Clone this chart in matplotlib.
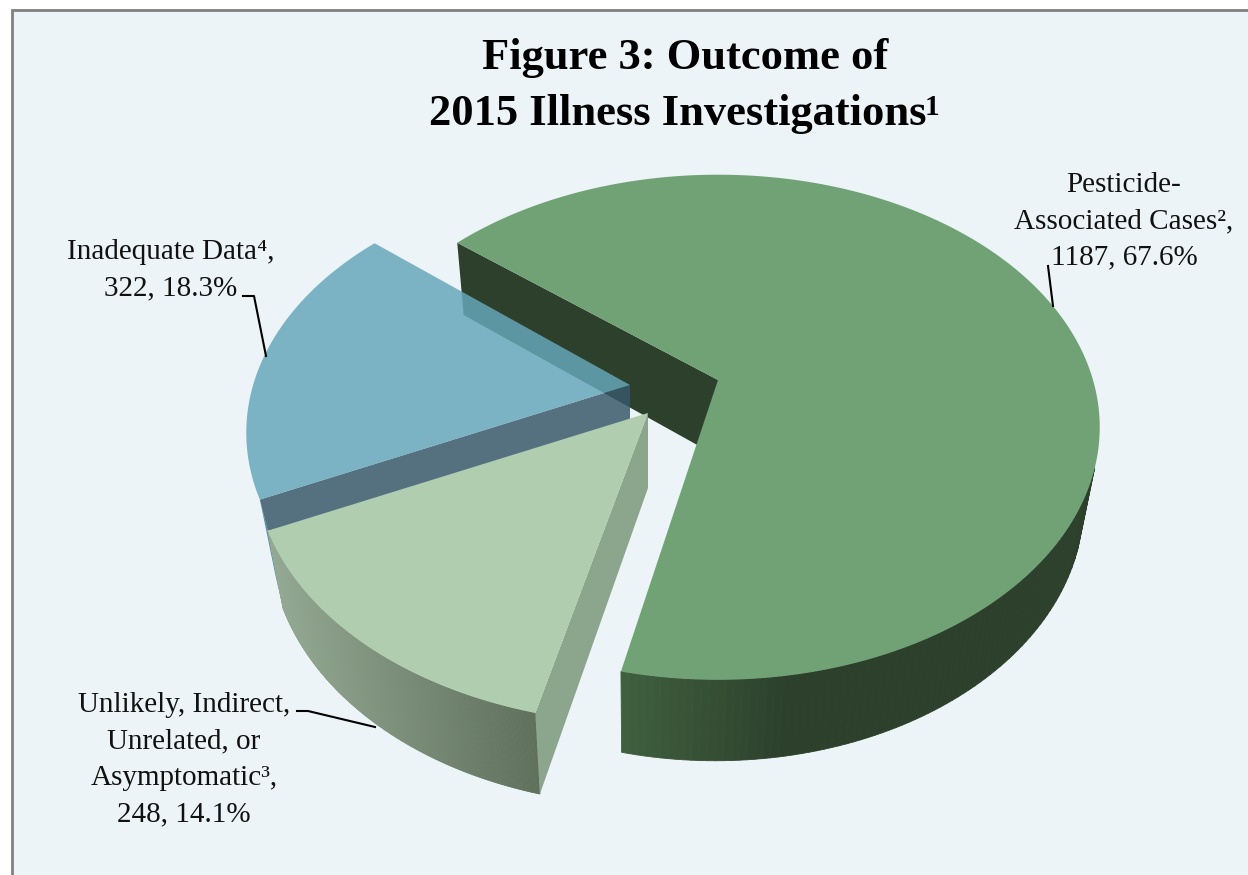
import numpy as np
import matplotlib
matplotlib.use("Agg")
import matplotlib.pyplot as plt
from matplotlib.patches import Polygon, Rectangle
from matplotlib.collections import PolyCollection
from matplotlib.colors import to_rgb

# Outcome counts, in clockwise pie order
names = ["Pesticide-\nAssociated Cases²", "Unlikely, Indirect,\nUnrelated, or\nAsymptomatic³", "Inadequate Data⁴"]
counts = [1187, 248, 322]

# pie shape on the canvas (pixels)
START_ANGLE = 141.0
RX, RY, PERSP = 375.0, 243.7, 0.187
DEPTH = 75.0
apexes = [(718, 380), (648, 413), (630, 385)]
radii = [1.0, 1.03, 1.005]
nudges = [0.0, -1.5, -1.5]  # small per-slice rotation from the exploded view
low_centre = [640, 648, 630]  # bottom face shrinks toward these x values
low_scale = [0.965, 0.96, 0.957]

BG = "#ecf4f7"
GREEN_TOP, GREEN_DARK, GREEN_SIDE_LIGHT = "#70a276", "#2c402c", "#40603f"
PALE_TOP, PALE_WALL, PALE_SIDE_LIGHT, PALE_SIDE_DARK = "#b1cdb0", "#8ca58d", "#94a993", "#5f705c"
BLUE_TOP, BLUE_WALL, BLUE_SIDE = "#67a7bb", "#385869", "#5a8ea6"
BLUE_ALPHA = 0.84


def project(apex, theta, r):
    # ground plane to canvas with a little perspective
    x = r * np.cos(theta)
    y = r * np.sin(theta)
    s = 1.0 / (1.0 + PERSP * y)
    return np.column_stack([apex[0] + RX * x * s, apex[1] - RY * y * s])


def lower(i, pts):
    # same points on the bottom face of slice i
    out = np.array(pts, dtype=float)
    out[:, 0] = low_centre[i] + (out[:, 0] - low_centre[i]) * low_scale[i]
    out[:, 1] = out[:, 1] + DEPTH + 0.02 * (out[:, 1] - apexes[i][1])
    return out


def shade(c1, c2, f):
    c1, c2 = np.array(to_rgb(c1)), np.array(to_rgb(c2))
    return c1 + (c2 - c1) * f


def slice_rim(i):
    theta = np.radians(np.linspace(edges[i], edges[i + 1], 240) + nudges[i])
    return theta, project(apexes[i], theta, radii[i])


fig = plt.figure(figsize=(12.48, 8.75), dpi=100)
ax = fig.add_axes([0, 0, 1, 1])
ax.set_xlim(0, 1248)
ax.set_ylim(875, 0)
ax.axis("off")
fig.patch.set_facecolor("white")

# panel with its grey top and left rule
ax.add_patch(Rectangle((12, 10), 1240, 870, fc=BG, ec="#808080", lw=2, zorder=0))

# slice angles, clockwise from the start angle
fracs = np.array(counts) / sum(counts)
edges = START_ANGLE - np.concatenate([[0], np.cumsum(fracs)]) * 360.0

# main slice, outer side starts where it leaves the top face
theta, rim = slice_rim(0)
apex = apexes[0]
rim_f = rim[np.sin(theta) < -0.33]
low_f = lower(0, rim_f)
quads = [[rim_f[j], rim_f[j + 1], low_f[j + 1], low_f[j]] for j in range(len(rim_f) - 1)]
cols = [shade(GREEN_SIDE_LIGHT, GREEN_DARK, np.clip((q[0][0] - 623) / 170, 0, 1)) for q in quads]
ax.add_collection(PolyCollection(quads, facecolors=cols, edgecolors=cols, linewidths=0.6, zorder=2))
wall = np.array([rim[0], apex])
wall = np.vstack([wall, lower(0, wall)[::-1]])
ax.add_patch(Polygon(wall, fc=GREEN_DARK, ec="none", zorder=2))
ax.add_patch(Polygon(np.vstack([[apex], rim]), fc=GREEN_TOP, ec="none", zorder=3))

# blue slice, slightly see-through; only a sliver of its outer side shows
theta, rim = slice_rim(2)
apex = apexes[2]
pale_corner = slice_rim(1)[1][-1]
pale_low = lower(1, [pale_corner])[0]
rim_end = rim[0]
ax.add_patch(Polygon([rim_end, lower(2, [rim_end])[0], pale_low, pale_corner], fc=BLUE_SIDE, ec="none", zorder=4))
wall = [apex, rim_end, pale_corner, lower(2, [apex])[0]]
ax.add_patch(Polygon(wall, fc=BLUE_WALL, ec="none", alpha=BLUE_ALPHA, zorder=5))
ax.add_patch(Polygon(np.vstack([[apex], rim]), fc=BLUE_TOP, ec="none", alpha=BLUE_ALPHA, zorder=6))

# pale slice sits in front of everything
theta, rim = slice_rim(1)
apex = apexes[1]
low = lower(1, rim)
xmin, xmax = rim[:, 0].min(), rim[:, 0].max()
quads = [[rim[j], rim[j + 1], low[j + 1], low[j]] for j in range(len(rim) - 1)]
cols = [shade(PALE_SIDE_LIGHT, PALE_SIDE_DARK, (q[0][0] - xmin) / (xmax - xmin)) for q in quads]
ax.add_collection(PolyCollection(quads, facecolors=cols, edgecolors=cols, linewidths=0.6, zorder=7))
wall = np.array([apex, rim[0]])
wall = np.vstack([wall, lower(1, wall)[::-1]])
ax.add_patch(Polygon(wall, fc=PALE_WALL, ec="none", zorder=7))
ax.add_patch(Polygon(np.vstack([[apex], rim]), fc=PALE_TOP, ec="none", zorder=8))

# leader lines
ax.plot([1048, 1053], [266, 306], color="black", lw=1.5, zorder=9)
ax.plot([243, 254, 266], [296, 296, 356], color="black", lw=1.5, zorder=9)
ax.plot([297, 308, 375], [711, 711, 727], color="black", lw=1.5, zorder=9)

serif = "Liberation Serif"
ax.text(685, 69, "Figure 3: Outcome of", family=serif, weight="bold", fontsize=32, ha="center", va="baseline")
ax.text(429, 125, "2015 Illness Investigations", family=serif, weight="bold", fontsize=32, ha="left", va="baseline")
ax.text(925, 115, "1", family=serif, weight="bold", fontsize=21, ha="left", va="baseline")

# value labels
label_pos = [(1124, 221), (184, 760), (171, 270)]
for name, n, f, (x, y) in zip(names, counts, fracs, label_pos):
    ax.text(x, y, f"{name},\n{n}, {f * 100:.1f}%", family=serif, fontsize=21, ha="center", va="center",
            color="#111111", linespacing=1.52, zorder=10)

plt.savefig("out.png", dpi=100)
plt.close()
